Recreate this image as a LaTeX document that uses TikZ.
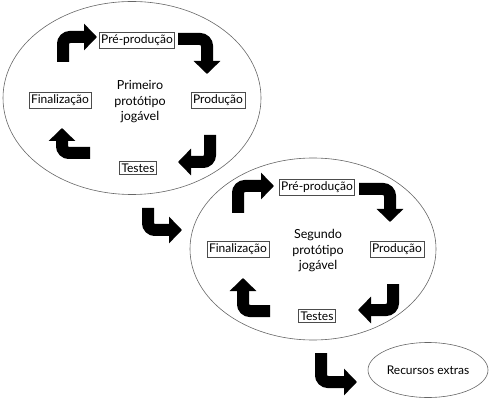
\documentclass[tikz,border=0pt]{standalone}
\usepackage{fontspec}
\setmainfont{Lato}
\usetikzlibrary{arrows.meta,shapes.geometric}
\tikzset{
  stagebox/.style={draw=black!70, line width=0.7pt, inner xsep=2pt, inner ysep=2.5pt, font=\fontsize{12}{14}\selectfont},
  ring/.style={draw=black!60, line width=0.6pt, ellipse, inner sep=0pt},
  centertext/.style={align=center, font=\fontsize{12.5}{15.5}\selectfont},
  bigarrow/.style={line width=12pt, rounded corners=7pt, -{Triangle[width=26pt,length=13pt]}}
}
\begin{document}
\begin{tikzpicture}[x=1pt,y=-1pt]
\useasboundingbox (0,0) rectangle (490,398);
% ellipses
\node[ring, minimum width=258pt, minimum height=193pt] (e1) at (132,98) {};
\node[ring, minimum width=246pt, minimum height=182pt] (e2) at (313,249) {};
\node[ring, minimum width=120pt, minimum height=55pt] (e3) at (428,370) {};
% first cycle
\node[stagebox] (pp1) at (137,40) {Pré-produção};
\node[stagebox] (pr1) at (218,100) {Produção};
\node[stagebox] (te1) at (138,168) {Testes};
\node[stagebox] (fi1) at (60,100) {Finalização};
\node[centertext] (c1) at (140,102) {Primeiro\\protótipo\\jogável};
% second cycle
\node[stagebox] (pp2) at (317,187) {Pré-produção};
\node[stagebox] (pr2) at (397,249) {Produção};
\node[stagebox] (te2) at (317,316) {Testes};
\node[stagebox] (fi2) at (238,249) {Finalização};
\node[centertext] (c2) at (318,251) {Segundo\\protótipo\\jogável};
\node[font=\fontsize{12}{14}\selectfont] (re) at (428,370) {Recursos extras};
% arrow anchor coordinates
\coordinate (a1s) at (63,62);   \coordinate (a1e) at (97,37);
\coordinate (a2s) at (178,39);  \coordinate (a2e) at (207,74);
\coordinate (a3s) at (210,135); \coordinate (a3e) at (178,162);
\coordinate (a4s) at (90,153);  \coordinate (a4e) at (62,128);
\coordinate (b1s) at (238,213); \coordinate (b1e) at (274,186);
\coordinate (b2s) at (359,189); \coordinate (b2e) at (390,222);
\coordinate (b3s) at (393,284); \coordinate (b3e) at (358,310);
\coordinate (b4s) at (270,311); \coordinate (b4e) at (243,278);
\coordinate (m1s) at (148,208); \coordinate (m1e) at (182,230);
\coordinate (m2s) at (321,353); \coordinate (m2e) at (357,382);
\draw[bigarrow] (a1s) |- (a1e);
\draw[bigarrow] (a2s) -| (a2e);
\draw[bigarrow] (a3s) |- (a3e);
\draw[bigarrow] (a4s) -| (a4e);
\draw[bigarrow] (b1s) |- (b1e);
\draw[bigarrow] (b2s) -| (b2e);
\draw[bigarrow] (b3s) |- (b3e);
\draw[bigarrow] (b4s) -| (b4e);
\draw[bigarrow] (m1s) |- (m1e);
\draw[bigarrow] (m2s) |- (m2e);
\end{tikzpicture}
\end{document}
